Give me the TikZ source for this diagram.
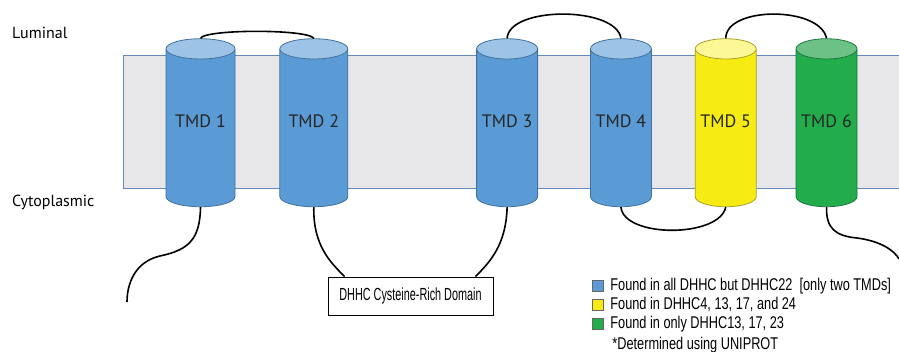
\documentclass[tikz,border=0pt]{standalone}
\usepackage{fontspec}
\setmainfont{PT Sans}
\newfontfamily\narrowfont{Liberation Sans}[FakeStretch=0.75]
\newfontfamily\boxfont{Liberation Sans}[FakeStretch=0.62]
\usetikzlibrary{positioning}
\usetikzlibrary{shapes.geometric}

\definecolor{tmdblue}{RGB}{91,155,213}
\definecolor{tmdbluetop}{RGB}{157,195,230}
\definecolor{tmdblueline}{RGB}{65,113,156}
\definecolor{tmdyellow}{RGB}{246,236,20}
\definecolor{tmdyellowtop}{RGB}{252,248,150}
\definecolor{tmdyellowline}{RGB}{170,160,40}
\definecolor{tmdgreen}{RGB}{34,172,76}
\definecolor{tmdgreentop}{RGB}{108,194,134}
\definecolor{tmdgreenline}{RGB}{30,120,62}
\definecolor{membranefill}{RGB}{231,230,232}
\definecolor{membraneline}{RGB}{98,138,190}

\begin{document}
\begin{tikzpicture}[x=1pt, y=-1pt,
                          cylnode/.style={cylinder, shape border rotate=90, aspect=0.4, minimum width=61pt, minimum height=168pt, inner sep=0pt, text depth=13pt, cylinder uses custom fill, line width=0.8pt, text=black!85, font=\fontsize{18}{18}\selectfont},
                          bluecyl/.style={cylnode, draw=tmdblueline, cylinder body fill=tmdblue, cylinder end fill=tmdbluetop},
                          yellowcyl/.style={cylnode, draw=tmdyellowline, cylinder body fill=tmdyellow, cylinder end fill=tmdyellowtop},
                          greencyl/.style={cylnode, draw=tmdgreenline, cylinder body fill=tmdgreen, cylinder end fill=tmdgreentop},
                          sidelabel/.style={anchor=west, inner sep=0pt, font=\fontsize{16}{16}\selectfont},
                          linker/.style={line width=1.6pt, black},
                          domainbox/.style={rectangle, draw, line width=0.8pt, minimum width=165pt, minimum height=38pt, inner sep=0pt, font=\boxfont\fontsize{17.5}{17.5}\selectfont},
                          keybox/.style={rectangle, draw=black!60, line width=0.4pt, minimum size=11pt, inner sep=0pt},
                          keytext/.style={anchor=west, inner sep=0pt, font=\narrowfont\fontsize{17}{17}\selectfont},
                      ]
                      \useasboundingbox (0,0) rectangle (899,352);

                      % Membrane
                      \fill[membranefill] (123,55) rectangle (899,188);
                      \draw[membraneline, line width=0.8pt] (899,55) -- (123,55) -- (123,188) -- (899,188);

                      % Nodes
                      \node[sidelabel]        (luminal)                       at (12,33)        {Luminal};
                      \node[sidelabel]        (cytoplasmic)                   at (12,202)       {Cytoplasmic};

                      \node[bluecyl, minimum width=69pt]    (tmd_1)     at (200.5,128)               {TMD 1};
                      \node[bluecyl, minimum width=68pt]    (tmd_2)     [right=44pt of tmd_1]        {TMD 2};
                      \node[bluecyl]          (tmd_3)     [right=128pt of tmd_2]       {TMD 3};
                      \node[bluecyl]          (tmd_4)     [right=52pt of tmd_3]        {TMD 4};
                      \node[yellowcyl]        (tmd_5)     [right=43pt of tmd_4]        {TMD 5};
                      \node[greencyl]         (tmd_6)     [right=39pt of tmd_5]        {TMD 6};

                      \node[domainbox]        (dhhc)      at (410.5,296)               {DHHC Cysteine-Rich Domain};
                      \coordinate             (n_term)    at (127,302);
                      \coordinate             (c_term)    at (899,259);

                      % Legend
                      \node[keybox, fill=tmdblue]     (key_1)     at (597.5,286)               {};
                      \node[keybox, fill=tmdyellow]   (key_2)     [below=7.5pt of key_1]       {};
                      \node[keybox, fill=tmdgreen]    (key_3)     [below=7.5pt of key_2]       {};
                      \node[keytext]          (text_1)    [right=7pt of key_1]         {Found in all DHHC but DHHC22\ \ [only two TMDs]};
                      \node[keytext]          (text_2)    [right=7pt of key_2]         {Found in DHHC4, 13, 17, and 24};
                      \node[keytext]          (text_3)    [right=7pt of key_3]         {Found in only DHHC13, 17, 23};
                      \node[keytext]          (text_4)    [below=5pt of text_3.south west, anchor=north west, xshift=2pt]   {*Determined using UNIPROT};

                      %Lines
                      \draw[linker] (tmd_1.north) .. controls (205,29) and (308,29) .. (tmd_2.north);
                      \draw[linker] (tmd_3.north) .. controls (509,6) and (616,6) .. (tmd_4.north);
                      \draw[linker] (tmd_5.north) .. controls (726,6) and (820,6) .. (tmd_6.north);
                      \draw[linker] (tmd_4.south) .. controls (624,238) and (719,238) .. (tmd_5.south);
                      \draw[linker] (tmd_1.south) .. controls (200,240) and (188,250) .. (160,256) .. controls (134,262) and (127,285) .. (n_term);
                      \draw[linker] (tmd_2.south) .. controls (313,245) and (330,262) .. ([xshift=17pt]dhhc.north west);
                      \draw[linker] (tmd_3.south) .. controls (506,245) and (490,262) .. ([xshift=-18pt]dhhc.north east);
                      \draw[linker] (tmd_6.south) .. controls (826,228) and (835,236) .. (857,238) .. controls (880,241) and (894,250) .. (c_term);
                  \end{tikzpicture}
\end{document}
